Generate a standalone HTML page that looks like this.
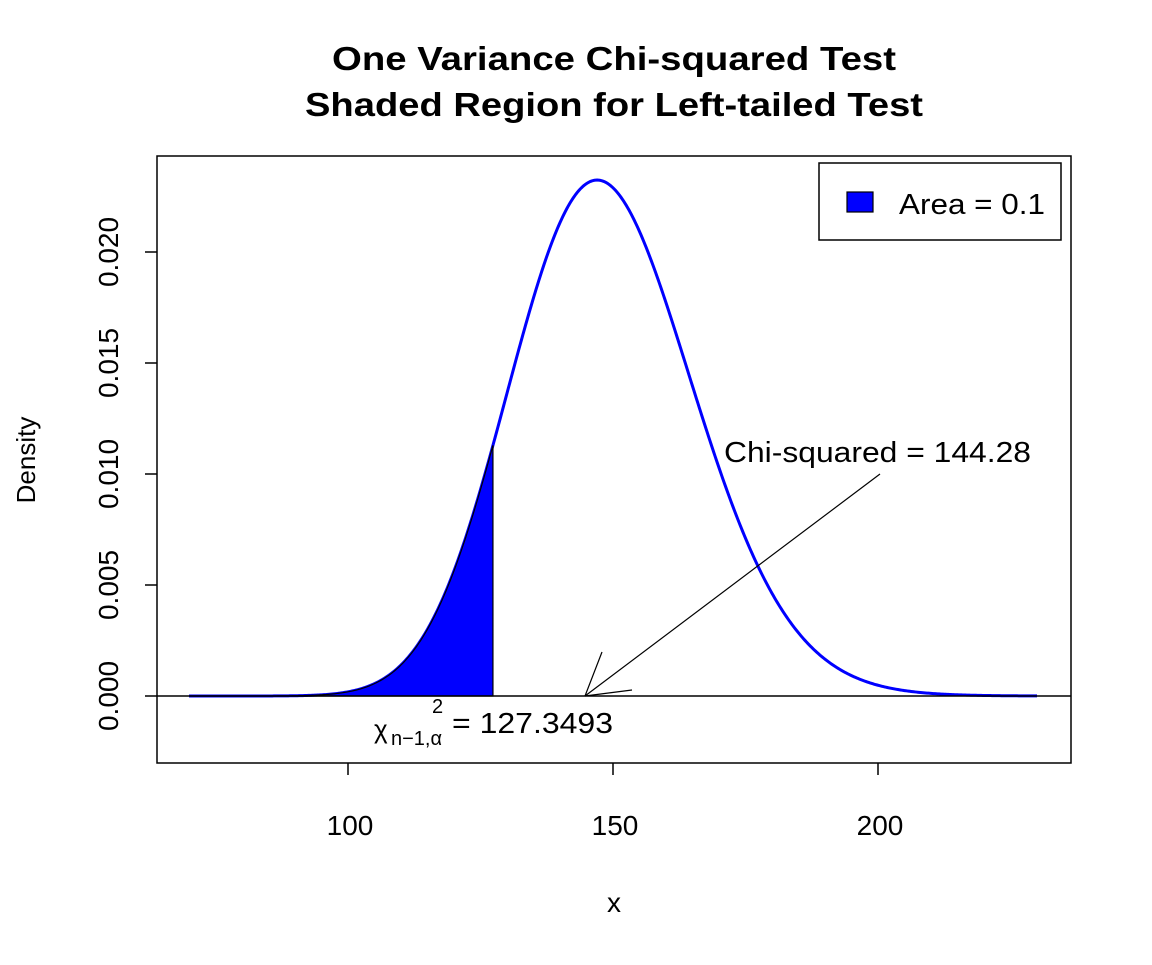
<!DOCTYPE html>
<html><head><meta charset="utf-8"><style>
html,body{margin:0;padding:0;background:#fff;}
text{font-family:"Liberation Sans",Arial,sans-serif;fill:#000;}
</style></head><body>
<svg id="s" width="1152" height="960" xmlns="http://www.w3.org/2000/svg">
<rect width="1152" height="960" fill="#fff"/>
<text x="614" y="70" font-size="33" font-weight="bold" text-anchor="middle" textLength="564" lengthAdjust="spacingAndGlyphs">One Variance Chi-squared Test</text>
<text x="614" y="116" font-size="33" font-weight="bold" text-anchor="middle" textLength="618" lengthAdjust="spacingAndGlyphs">Shaded Region for Left-tailed Test</text>
<rect x="157" y="156" width="914" height="607" fill="none" stroke="#000" stroke-width="1.5"/>
<g id="g"></g>
<line x1="157" y1="696" x2="1071" y2="696" stroke="#000" stroke-width="1.5"/>
<g stroke="#000" stroke-width="1.5">
<line x1="348" y1="763" x2="348" y2="775"/><line x1="613" y1="763" x2="613" y2="775"/><line x1="878" y1="763" x2="878" y2="775"/>
<line x1="145" y1="696" x2="157" y2="696"/><line x1="145" y1="585" x2="157" y2="585"/><line x1="145" y1="474" x2="157" y2="474"/><line x1="145" y1="363" x2="157" y2="363"/><line x1="145" y1="252" x2="157" y2="252"/>
</g>
<g font-size="28" text-anchor="middle">
<text x="350" y="835">100</text><text x="615" y="835">150</text><text x="880" y="835">200</text>
<text x="614" y="912">x</text>
<text transform="translate(118,696) rotate(-90)">0.000</text>
<text transform="translate(118,585) rotate(-90)">0.005</text>
<text transform="translate(118,474) rotate(-90)">0.010</text>
<text transform="translate(118,363) rotate(-90)">0.015</text>
<text transform="translate(118,252) rotate(-90)">0.020</text>
<text transform="translate(35,460) rotate(-90)" font-size="26">Density</text>
</g>
<rect x="819" y="163" width="242" height="77" fill="#fff" stroke="#000" stroke-width="1.5"/>
<rect x="847" y="192" width="26" height="20" fill="#00f" stroke="#000" stroke-width="1.2"/>
<text x="899" y="214" font-size="29" textLength="146" lengthAdjust="spacingAndGlyphs">Area = 0.1</text>
<text x="724" y="462" font-size="29" textLength="307" lengthAdjust="spacingAndGlyphs">Chi-squared = 144.28</text>
<g stroke="#000" stroke-width="1.2">
<line x1="880" y1="474" x2="585" y2="696"/><line x1="585" y1="696" x2="602" y2="652"/><line x1="585" y1="696" x2="632" y2="690"/>
</g>
<text x="374" y="738" font-size="26">χ</text>
<text x="391" y="745" font-size="20">n−1,α</text>
<text x="432" y="713" font-size="20">2</text>
<text x="452" y="733" font-size="29" textLength="161" lengthAdjust="spacingAndGlyphs">= 127.3493</text>
</svg>
<script>
(function(){
var k=149,h=k/2;
function lg(z){return (z-0.5)*Math.log(z)-z+0.5*Math.log(2*Math.PI)+1/(12*z)-1/(360*z*z*z);}
var c=-h*Math.log(2)-lg(h);
function f(x){return Math.exp((h-1)*Math.log(x)-x/2+c);}
function X(v){return 348+(v-100)*5.3;}function Y(d){return 696-d*22200;}
var p="",sh="M"+X(70)+","+696;
for(var v=70;v<=230.001;v+=0.25){p+=(p?"L":"M")+X(v).toFixed(2)+","+Y(f(v)).toFixed(2);}
var q=127.3493;
for(var v=70;v<q;v+=0.25){sh+="L"+X(v).toFixed(2)+","+Y(f(v)).toFixed(2);}
sh+="L"+X(q)+","+Y(f(q))+"L"+X(q)+",696Z";
document.getElementById("g").innerHTML='<path d="'+p+'" fill="none" stroke="#00f" stroke-width="3"/><path d="'+sh+'" fill="#00f" stroke="#000" stroke-width="1.2"/>';
})();
</script>
</body></html>
